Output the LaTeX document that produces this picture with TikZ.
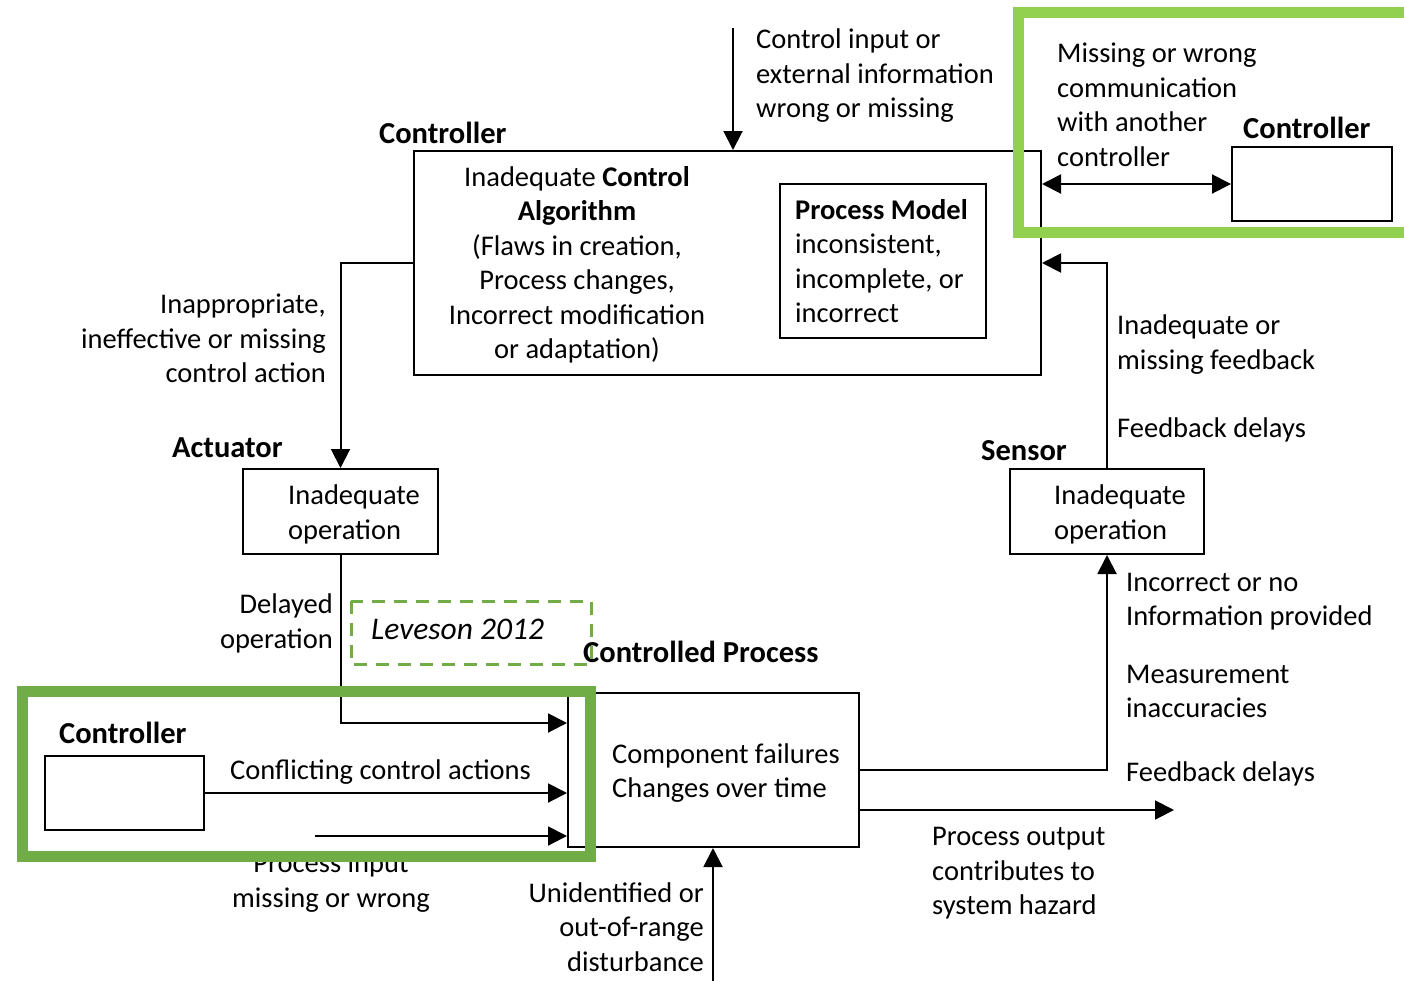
\documentclass[tikz,border=0pt]{standalone}
\usepackage{fontspec}
\setmainfont{Carlito}
\usetikzlibrary{arrows.meta}
\definecolor{gA}{HTML}{92D050}
\definecolor{gB}{HTML}{70AD47}
\tikzset{
  txt/.style={inner sep=0pt, font=\fontsize{28.5}{34.5}\selectfont, align=left, anchor=north west, yshift=-2pt},
  txtr/.style={txt, align=right, anchor=north east},
  txtc/.style={txt, align=center, anchor=north},
  head/.style={inner sep=0pt, font=\fontsize{30.5}{36}\selectfont\bfseries, anchor=north west, yshift=-2pt},
  box/.style={draw, line width=2pt, inner sep=0pt, anchor=north west, fill=white},
  arr/.style={line width=2pt, -{Triangle[length=19pt,width=19pt]}},
  darr/.style={line width=2pt, {Triangle[length=19pt,width=19pt]}-{Triangle[length=19pt,width=19pt]}},
  frameA/.style={draw=gA, line width=11pt},
  frameB/.style={draw=gB, line width=11pt},
  levbox/.style={draw=gB, line width=3pt, dash pattern=on 13pt off 9pt},
}
\begin{document}
\begin{tikzpicture}[x=1pt,y=-1pt]
\useasboundingbox (0,0) rectangle (1404,980);
% boxes
\node[box, minimum width=627pt, minimum height=224pt] (ctrl) at (413,150) {};
\node[box, minimum width=206pt, minimum height=154pt] (pm) at (779,183) {};
\node[box, minimum width=160pt, minimum height=74pt] (ctrl3) at (1231,146) {};
\node[box, minimum width=195pt, minimum height=85pt] (act) at (242,468) {};
\node[box, minimum width=194pt, minimum height=85pt] (sens) at (1009,468) {};
\node[box, minimum width=291pt, minimum height=154pt] (proc) at (567,692) {};
\node[box, minimum width=159pt, minimum height=74pt] (ctrl2) at (44,755) {};
% coordinates for free ends
\coordinate (cin) at (733,28);
\coordinate (pin) at (315,836);
\coordinate (outend) at (1174,810);
\coordinate (dist) at (713,982);
% connectors
\draw[arr] (cin) -- (cin |- ctrl.north);
\draw[darr] (ctrl.east |- ctrl3.west) -- (ctrl3.west);
\draw[arr] (sens.north) |- (ctrl.east);
\draw[arr] (ctrl.west) -| (act.north);
\draw[arr] (act.south) |- ([yshift=-31pt]proc.north west);
\draw[arr] (ctrl2.east) -- (proc.west |- ctrl2.east);
\draw[arr] (pin) -- (pin -| proc.west);
\draw[arr] (proc.east) -| (sens.south);
\draw[arr] (proc.east |- outend) -- (outend);
\draw[arr] (dist) -- (dist |- proc.south);
% texts
\node[head] (hctrl) at (379,120) {Controller};
\node[txtc] (tca) at (577,164) {Inadequate \textbf{Control}\\\textbf{Algorithm}\\(Flaws in creation,\\Process changes,\\Incorrect modification\\or adaptation)};
\node[txt] (tpm) at (795,197) {\textbf{Process Model}\\inconsistent,\\incomplete, or\\incorrect};
\node[txt] (tcin) at (756,27) {Control input or\\external information\\wrong or missing};
\node[txt] (tcomm) at (1057,41) {Missing or wrong\\communication\\with another\\controller};
\node[head] (hctrl3) at (1243,115) {Controller};
\node[txt] (tfb) at (1117,313) {Inadequate or\\missing feedback};
\node[txt] (tfd) at (1117,416) {Feedback delays};
\node[head] (hsens) at (981,438) {Sensor};
\node[txt] (tsens) at (1054,483) {Inadequate\\operation};
\node[head] (hact) at (172,436) {Actuator};
\node[txt] (tact) at (288,483) {Inadequate\\operation};
\node[txtr] (tinap) at (326,292) {Inappropriate,\\ineffective or missing\\control action};
\node[txtr] (tdel) at (333,592) {Delayed\\operation};
\node[txt, font=\fontsize{31.5}{36}\selectfont\itshape] (tlev) at (371,617) {Leveson 2012};
\node[head] (hproc) at (583,639) {Controlled Process};
\node[txt] (tproc) at (612,741) {Component failures\\Changes over time};
\node[head] (hctrl2) at (59,720) {Controller};
\node[txt] (tconf) at (230,757) {Conflicting control actions};
\node[txtc] (tpin) at (331,851) {Process input\\missing or wrong};
\node[txt] (tinc) at (1126,571) {Incorrect or no\\Information provided};
\node[txt] (tmeas) at (1126,663) {Measurement\\inaccuracies};
\node[txt] (tfd2) at (1126,759) {Feedback delays};
\node[txt] (tout) at (932,825) {Process output\\contributes to\\system hazard};
\node[txtr] (tdist) at (704,880) {Unidentified or\\out-of-range\\disturbance};
% frames
\draw[levbox] (351,601) rectangle (591,664);
\draw[frameA] (1018,12) rectangle (1420,232);
\draw[frameB] (22,691) rectangle (590,856);
\end{tikzpicture}
\end{document}
